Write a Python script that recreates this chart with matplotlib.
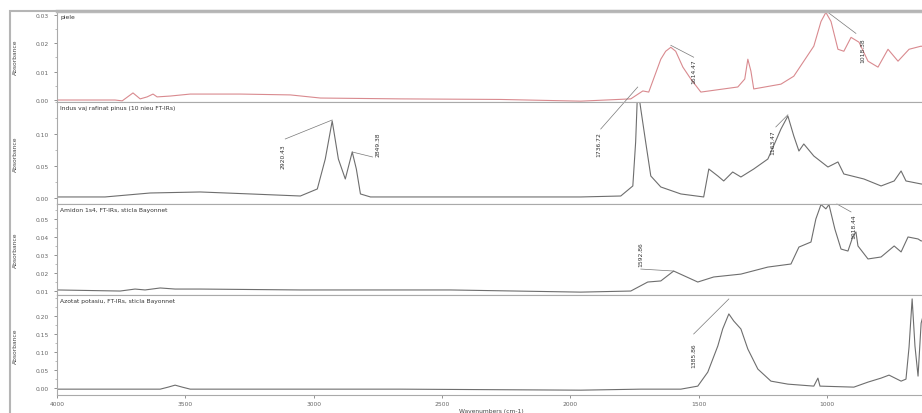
import numpy as np
import matplotlib.pyplot as plt
from matplotlib.patches import Rectangle
from matplotlib.ticker import MultipleLocator

# spectra (wavenumber cm-1, absorbance)
wn_piele = [4000, 3774, 3746, 3704, 3676, 3649, 3626, 3610, 3559, 3481, 3286, 3091, 2974, 2662,
            2272, 1960, 1765, 1718, 1695, 1648, 1629, 1609, 1590, 1562, 1531, 1492, 1348, 1321,
            1309, 1297, 1286, 1180, 1130, 1052, 1024, 1005, 985, 958, 935, 907, 876, 841, 802,
            763, 724, 681, 634, 615]
abs_piele = [0.0000, 0.0000, -0.0003, 0.0025, 0.0004, 0.0011, 0.0021, 0.0011, 0.0014, 0.0021,
             0.0021, 0.0018, 0.0007, 0.0004, 0.0002, -0.0004, 0.0004, 0.0032, 0.0028, 0.0144,
             0.0172, 0.0186, 0.0172, 0.0116, 0.0074, 0.0028, 0.0046, 0.0074, 0.0144, 0.0102,
             0.0039, 0.0056, 0.0084, 0.0190, 0.0277, 0.0309, 0.0277, 0.0179, 0.0172, 0.0221,
             0.0204, 0.0137, 0.0116, 0.0179, 0.0137, 0.0179, 0.0190, 0.0185]

wn_ceara = [4000, 3813, 3637, 3442, 3247, 3052, 2986, 2955, 2928, 2904, 2877, 2850, 2834, 2818,
            2779, 2467, 1960, 1804, 1757, 1746, 1738, 1726, 1707, 1687, 1648, 1570, 1481, 1461,
            1426, 1403, 1368, 1336, 1286, 1231, 1180, 1153, 1130, 1110, 1091, 1052, 997, 958,
            935, 857, 790, 739, 712, 693, 634, 615]
abs_ceara = [0.0016, 0.0016, 0.0078, 0.0094, 0.0063, 0.0031, 0.0141, 0.0609, 0.1203, 0.0609,
             0.0297, 0.0719, 0.0453, 0.0063, 0.0016, 0.0016, 0.0016, 0.0031, 0.0188, 0.0875,
             0.1734, 0.1391, 0.0875, 0.0344, 0.0172, 0.0063, 0.0016, 0.0453, 0.0344, 0.0266,
             0.0406, 0.0328, 0.0453, 0.0609, 0.1078, 0.1281, 0.0969, 0.0734, 0.0844, 0.0656,
             0.0484, 0.0563, 0.0375, 0.0297, 0.0188, 0.0266, 0.0422, 0.0266, 0.0219, 0.0210]

wn_amidon = [4000, 3754, 3696, 3657, 3598, 3540, 3442, 3052, 2467, 1960, 1765, 1699, 1648, 1598,
             1504, 1442, 1336, 1231, 1141, 1110, 1063, 1044, 1024, 1005, 993, 970, 946, 919,
             899, 888, 880, 841, 790, 739, 712, 685, 646, 634, 615]
abs_amidon = [0.0106, 0.0100, 0.0111, 0.0106, 0.0117, 0.0111, 0.0111, 0.0106, 0.0106, 0.0094,
              0.0100, 0.0150, 0.0156, 0.0211, 0.0150, 0.0178, 0.0194, 0.0233, 0.0250, 0.0344,
              0.0372, 0.0500, 0.0580, 0.0556, 0.0580, 0.0444, 0.0333, 0.0322, 0.0406, 0.0428,
              0.0350, 0.0278, 0.0289, 0.0350, 0.0317, 0.0400, 0.0389, 0.0378, 0.0380]

wn_azotat = [4000, 3598, 3567, 3540, 3512, 3481, 2662, 1960, 1726, 1570, 1504, 1465, 1426, 1407,
             1383, 1364, 1336, 1309, 1270, 1219, 1153, 1052, 1036, 1028, 896, 841, 790, 759,
             712, 693, 681, 669, 658, 646, 634, 615]
abs_azotat = [-0.0028, -0.0028, 0.0028, 0.0083, 0.0028, -0.0028, -0.0028, -0.0056, -0.0028,
              -0.0028, 0.0056, 0.0444, 0.1167, 0.1639, 0.2056, 0.1861, 0.1639, 0.1083, 0.0528,
              0.0194, 0.0111, 0.0056, 0.0278, 0.0056, 0.0028, 0.0167, 0.0278, 0.0361, 0.0194,
              0.0250, 0.1139, 0.2472, 0.1167, 0.0333, 0.1800, 0.2300]

titles = ['piele',
          'Indus vaj rafinat pinus (10 nieu FT-IRs)',
          'Amidon 1s4, FT-IRs, sticla Bayonnet',
          'Azotat potasiu, FT-IRs, sticla Bayonnet']

# peak labels: text, label position, peak position
peaks_piele = [('1614.47', 1520, 0.0102, 1520, 0.0151, 1609, 0.0193),
               ('1018.38', 860, 0.0179, 888, 0.0235, 1001, 0.0312)]
peaks_ceara = [('2920.43', 3119, 0.0656, 3111, 0.0922, 2928, 0.1219),
               ('2849.38', 2748, 0.0844, 2771, 0.0641, 2850, 0.0719),
               ('1736.72', 1890, 0.0844, 1882, 0.1078, 1738, 0.1734),
               ('1163.47', 1212, 0.0875, 1200, 0.1110, 1153, 0.1300)]
peaks_amidon = [('1592.86', 1726, 0.0306, 1726, 0.0222, 1598, 0.0211),
                ('1018.44', 896, 0.0461, 907, 0.0539, 962, 0.0583)]
peaks_azotat = [('1385.86', 1520, 0.0917, 1520, 0.1500, 1383, 0.2470)]

W, H = 922, 414
fig = plt.figure(figsize=(W / 100, H / 100), dpi=100)

# panel extents in pixels (top, bottom), y-limits and ticks
panels = [
    (12, 103, (-0.0007, 0.0314), [0.00, 0.01, 0.02, 0.03], 0.005, '%.2f'),
    (103, 205, (-0.0094, 0.150), [0.00, 0.05, 0.10], 0.025, '%.2f'),
    (205, 296, (0.0078, 0.0583), [0.01, 0.02, 0.03, 0.04, 0.05], 0.005, '%.2f'),
    (296, 396, (-0.019, 0.258), [0.00, 0.05, 0.10, 0.15, 0.20], 0.025, '%.2f'),
]
series = [(wn_piele, abs_piele, '#d98a8f', peaks_piele),
          (wn_ceara, abs_ceara, '#6e6e6e', peaks_ceara),
          (wn_amidon, abs_amidon, '#6e6e6e', peaks_amidon),
          (wn_azotat, abs_azotat, '#6e6e6e', peaks_azotat)]

left = 57 / W
width = (926 - 57) / W
fs = 4.3
axes = []
for i, ((top, bot, ylim, yt, minor, fmt), (x, y, col, pk)) in enumerate(zip(panels, series)):
    ax = fig.add_axes([left, 1 - bot / H, width, (bot - top) / H])
    ax.plot(x, y, color=col, lw=0.8)
    ax.set_xlim(4000, 615)
    ax.set_ylim(*ylim)
    ax.set_yticks(yt)
    ax.set_yticklabels([fmt % v for v in yt])
    ax.yaxis.set_minor_locator(MultipleLocator(minor))
    ax.tick_params(axis='y', labelsize=fs, colors='#666', length=2, width=0.5, pad=4)
    ax.tick_params(axis='y', which='minor', length=1.2, width=0.4, colors='#888')
    ax.set_ylabel('Absorbance', fontsize=fs, color='#444', labelpad=8)
    ax.yaxis.set_label_coords(-0.045, 0.5)
    for s in ax.spines.values():
        s.set_color('#aaaaaa')
        s.set_linewidth(0.8)
    ax.text(0.004, 0.97, titles[i], transform=ax.transAxes, fontsize=fs,
            color='#333', va='top', ha='left')
    for lab, tx, ty, lx, ly, px, py in pk:
        ax.plot([lx, px], [ly, py], color='#777', lw=0.5, clip_on=False)
        ax.text(tx, ty, lab, rotation=90, fontsize=fs, color='#333',
                ha='center', va='center')
    if i < 3:
        ax.set_xticks([])
    else:
        ax.set_xticks([4000, 3500, 3000, 2500, 2000, 1500, 1000])
        ax.tick_params(axis='x', labelsize=fs, colors='#666', length=2, width=0.5, pad=2)
        ax.set_xlabel('Wavenumbers (cm-1)', fontsize=fs, color='#444', labelpad=2)
    axes.append(ax)

axes[0].spines['top'].set_linewidth(2.5)
axes[0].spines['top'].set_color('#bbbbbb')

# outer frame of the report window
fig.patches.append(Rectangle((10 / W, -0.05), 1.0, 1 - 12 / H + 0.05, transform=fig.transFigure,
                             fill=False, edgecolor='#b5b5b5', lw=1.5))

fig.savefig('out.png', dpi=100)
